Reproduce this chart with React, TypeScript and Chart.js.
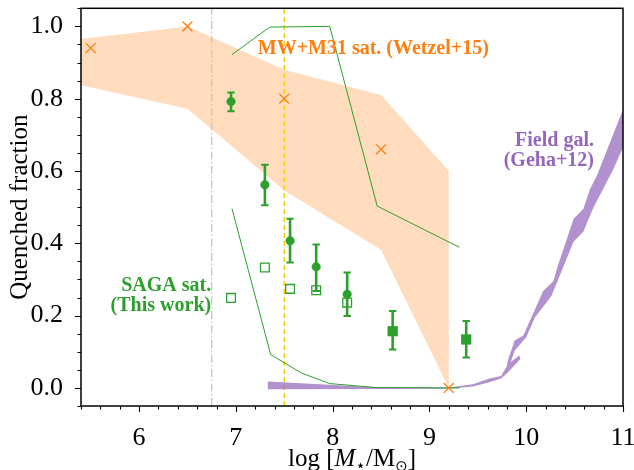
import React, { useEffect, useRef } from "react";
import { Chart, registerables } from "chart.js";

Chart.register(...registerables);

// ---------------- axes ----------------
const X_MIN = 5.4;
const X_MAX = 11;
const Y_MIN = -0.05;
const Y_MAX = 1.05;
const xTickValues = [6, 7, 8, 9, 10, 11];
const yTickValues = [0.0, 0.2, 0.4, 0.6, 0.8, 1.0];
const xMinorStep = 0.2;
const yMinorStep = 0.05;

// ---------------- MW+M31 satellites (Wetzel+15) ----------------
const wetzelX = [5.5, 6.5, 7.5, 8.5, 9.2];
const wetzelY = [0.94, 1.0, 0.8, 0.66, 0.0];
const wetzelBandX = [5.0, 6.5, 7.5, 8.5, 9.2];
const wetzelBandHi = [0.952, 1.0, 0.88, 0.81, 0.6];
const wetzelBandLo = [0.861, 0.772, 0.546, 0.382, 0.0];

// ---------------- SAGA satellites (this work) ----------------
const sagaX = [6.95, 7.3, 7.56, 7.83, 8.15, 8.62, 9.38];
const sagaY = [0.792, 0.562, 0.407, 0.335, 0.259, 0.157, 0.134];
const sagaLo = [0.765, 0.505, 0.347, 0.268, 0.199, 0.106, 0.084];
const sagaHi = [0.817, 0.617, 0.468, 0.397, 0.319, 0.213, 0.185];
const sagaMarker = ["circle", "circle", "circle", "circle", "circle", "rect", "rect"];
const sagaOpenY = [0.249, 0.333, 0.274, 0.27, 0.236, 0.157, 0.134];

// SAGA model envelope lines
const envHiX = [6.96, 7.35, 7.97, 8.46, 9.31];
const envHiY = [0.922, 0.998, 1.0, 0.503, 0.389];
const envLoX = [6.96, 7.36, 7.68, 7.97, 8.45, 9.31];
const envLoY = [0.496, 0.092, 0.041, 0.012, 0.001, 0.0];

// ---------------- Field galaxies (Geha+12) band ----------------
const fieldUpX = [7.33, 8.45, 9.2, 9.45, 9.62, 9.74, 9.8, 9.81, 9.88, 9.97, 10.175, 10.28, 10.33, 10.49, 10.59, 10.66, 10.73, 11.0];
const fieldUpY = [0.018, 0.002, 0.001, 0.01, 0.026, 0.033, 0.06, 0.076, 0.131, 0.145, 0.268, 0.295, 0.341, 0.468, 0.495, 0.551, 0.587, 0.77];
const fieldLoX = [7.33, 8.45, 9.2, 9.45, 9.62, 9.74, 9.8, 9.94, 9.93, 9.84, 9.88, 10.0, 10.09, 10.26, 10.33, 10.49, 10.59, 10.69, 10.9, 11.0];
const fieldLoY = [-0.004, -0.003, -0.002, 0.004, 0.016, 0.026, 0.04, 0.08, 0.09, 0.072, 0.103, 0.14, 0.195, 0.254, 0.3, 0.405, 0.432, 0.496, 0.605, 0.665];

// ---------------- reference lines ----------------
const grayLineX = 6.75;
const yellowLineX = 7.5;

// ---------------- annotations ----------------
const wetzelLabel = { x: 8.42, y: 0.9375, lines: ["MW+M31 sat. (Wetzel+15)"] };
const sagaLabel = { x: 6.745, y: 0.255, lines: ["SAGA sat.", "(This work)"] };
const fieldLabel = { x: 10.7, y: 0.657, lines: ["Field gal.", "(Geha+12)"] };

const GREEN = "#2ca02c";
const ORANGE = "#ff7f0e";
const PURPLE = "#9467bd";
const SERIF = "'Liberation Serif', 'Times New Roman', 'DejaVu Serif', serif";

const pts = (xs: number[], ys: (number | null)[]) => xs.map((x, i) => ({ x, y: ys[i] }));

const decorPlugin = {
  id: "decor",
  afterDraw(chart: any) {
    const { ctx, chartArea: a, scales } = chart;
    const xs = scales.x;
    const ys = scales.y;
    ctx.save();
    // ticks (outward)
    ctx.strokeStyle = "#000";
    ctx.lineWidth = 1.1;
    ctx.beginPath();
    const isMajor = (v: number, list: number[]) => list.some((m) => Math.abs(m - v) < 1e-6);
    for (let k = Math.ceil(X_MIN / xMinorStep - 1e-6); k * xMinorStep <= X_MAX + 1e-6; k++) {
      const v = k * xMinorStep;
      const px = Math.round(xs.getPixelForValue(v)) + 0.5;
      const len = isMajor(v, xTickValues) ? 6 : 3.5;
      ctx.moveTo(px, a.bottom);
      ctx.lineTo(px, a.bottom + len);
    }
    for (let k = Math.ceil(Y_MIN / yMinorStep - 1e-6); k * yMinorStep <= Y_MAX + 1e-6; k++) {
      const v = k * yMinorStep;
      const py = Math.round(ys.getPixelForValue(v)) + 0.5;
      const len = isMajor(v, yTickValues) ? 6 : 3.5;
      ctx.moveTo(a.left, py);
      ctx.lineTo(a.left - len, py);
    }
    ctx.stroke();
    // frame
    ctx.lineWidth = 1.5;
    ctx.strokeRect(a.left, a.top, a.right - a.left, a.bottom - a.top);

    // text annotations
    const drawLabel = (lab: any, color: string, align: CanvasTextAlign) => {
      ctx.font = `bold 20px ${SERIF}`;
      ctx.fillStyle = color;
      ctx.textAlign = align;
      ctx.textBaseline = "middle";
      const cx = xs.getPixelForValue(lab.x);
      const cy = ys.getPixelForValue(lab.y);
      const gap = 20;
      const n = lab.lines.length;
      lab.lines.forEach((t: string, i: number) => {
        ctx.fillText(t, cx, cy + (i - (n - 1) / 2) * gap);
      });
    };
    drawLabel(wetzelLabel, ORANGE, "center");
    drawLabel(sagaLabel, GREEN, "right");
    drawLabel(fieldLabel, PURPLE, "right");

    // x-axis title: log [M_star / M_sun]
    const parts = [
      { t: "log [", f: `25px ${SERIF}`, dy: 0 },
      { t: "M", f: `italic 25px ${SERIF}`, dy: 0 },
      { t: "\u22C6", f: `17px 'DejaVu Sans', sans-serif`, dy: 5 },
      { t: "/", f: `25px ${SERIF}`, dy: 0 },
      { t: "M", f: `25px ${SERIF}`, dy: 0 },
      { t: "\u2299", f: `15px 'DejaVu Sans', sans-serif`, dy: 5 },
      { t: "]", f: `25px ${SERIF}`, dy: 0 },
    ];
    ctx.fillStyle = "#000";
    ctx.textAlign = "left";
    ctx.textBaseline = "alphabetic";
    let total = 0;
    const widths = parts.map((p) => {
      ctx.font = p.f;
      const w = ctx.measureText(p.t).width;
      total += w;
      return w;
    });
    let x0 = (a.left + a.right) / 2 - total / 2;
    const base = a.bottom + 60;
    parts.forEach((p, i) => {
      ctx.font = p.f;
      ctx.fillText(p.t, x0, base + p.dy);
      x0 += widths[i];
    });
    ctx.restore();
  },
};

export default function App() {
  const ref = useRef<HTMLCanvasElement | null>(null);

  useEffect(() => {
    if (!ref.current) return;

    const errData: { x: number; y: number | null }[] = [];
    sagaX.forEach((xv, i) => {
      errData.push({ x: xv, y: sagaLo[i] }, { x: xv, y: sagaHi[i] }, { x: xv, y: null });
    });
    const capData = [...pts(sagaX, sagaLo), ...pts(sagaX, sagaHi)];

    const wetzelPoly = [...pts(wetzelBandX, wetzelBandHi), ...pts(wetzelBandX, wetzelBandLo).reverse()];
    const fieldPoly = [...pts(fieldUpX, fieldUpY), ...pts(fieldLoX, fieldLoY).reverse()];

    const chart = new Chart(ref.current, {
      type: "line",
      data: {
        datasets: [
          {
            label: "Wetzel band",
            data: wetzelPoly,
            fill: "shape",
            backgroundColor: "rgba(255,127,14,0.27)",
            borderColor: "rgba(0,0,0,0)",
            borderWidth: 0,
            pointRadius: 0,
            order: 20,
          },
          {
            label: "gray line",
            data: [{ x: grayLineX, y: Y_MIN }, { x: grayLineX, y: Y_MAX }],
            borderColor: "#c8c8c8",
            borderWidth: 1.4,
            borderDash: [8, 2.5, 1.5, 2.5],
            pointRadius: 0,
            fill: false,
            order: 15,
          },
          {
            label: "yellow line",
            data: [{ x: yellowLineX, y: Y_MIN }, { x: yellowLineX, y: Y_MAX }],
            borderColor: "#ffcc00",
            borderWidth: 1.5,
            borderDash: [5, 3],
            pointRadius: 0,
            fill: false,
            order: 14,
          },
          {
            label: "envelope hi",
            data: pts(envHiX, envHiY),
            borderColor: GREEN,
            borderWidth: 1,
            pointRadius: 0,
            fill: false,
            order: 12,
          },
          {
            label: "field band",
            data: fieldPoly,
            fill: "shape",
            backgroundColor: "rgba(148,103,189,0.72)",
            borderColor: "rgba(0,0,0,0)",
            borderWidth: 0,
            pointRadius: 0,
            order: 11,
          },
          {
            label: "envelope lo",
            data: pts(envLoX, envLoY),
            borderColor: GREEN,
            borderWidth: 1,
            pointRadius: 0,
            fill: false,
            order: 10,
          },
          {
            label: "Wetzel",
            data: pts(wetzelX, wetzelY),
            showLine: false,
            pointStyle: "crossRot",
            pointRadius: 7,
            pointBorderColor: ORANGE,
            pointBorderWidth: 1.3,
            borderColor: ORANGE,
            order: 5,
          },
          {
            label: "SAGA open",
            data: pts(sagaX, sagaOpenY),
            showLine: false,
            pointStyle: "rect",
            pointRadius: 6.2,
            pointBackgroundColor: "rgba(0,0,0,0)",
            pointBorderColor: GREEN,
            pointBorderWidth: 1.3,
            borderColor: GREEN,
            order: 4,
          },
          {
            label: "SAGA err",
            data: errData,
            borderColor: GREEN,
            borderWidth: 2.6,
            pointRadius: 0,
            spanGaps: false,
            fill: false,
            order: 3,
          },
          {
            label: "SAGA caps",
            data: capData,
            showLine: false,
            pointStyle: "line",
            pointRadius: 3.7,
            pointBorderColor: GREEN,
            pointBorderWidth: 2,
            borderColor: GREEN,
            order: 2,
          },
          {
            label: "SAGA",
            data: pts(sagaX, sagaY),
            showLine: false,
            pointStyle: sagaMarker as any,
            pointRadius: sagaMarker.map((m) => (m === "rect" ? 6.4 : 4.3)),
            pointBackgroundColor: GREEN,
            pointBorderColor: GREEN,
            pointBorderWidth: 0.5,
            borderColor: GREEN,
            order: 1,
          },
        ] as any,
      },
      options: {
        responsive: false,
        devicePixelRatio: 1,
        animation: false,
        layout: { padding: { left: 0, top: 4, right: 11, bottom: 0 } },
        plugins: {
          legend: { display: false },
          tooltip: { enabled: false },
        },
        elements: { line: { tension: 0 } },
        scales: {
          x: {
            type: "linear",
            min: X_MIN,
            max: X_MAX,
            grid: { display: false },
            border: { display: false },
            ticks: {
              color: "#000",
              font: { family: SERIF, size: 26 },
              padding: 9,
              maxRotation: 0,
              autoSkip: false,
              callback: (v: any) => String(v),
            },
            afterBuildTicks: (s: any) => {
              s.ticks = xTickValues.map((v) => ({ value: v }));
            },
            afterFit: (s: any) => {
              s.height = 64;
              s.paddingLeft = 0;
              s.paddingRight = 0;
            },
          },
          y: {
            type: "linear",
            min: Y_MIN,
            max: Y_MAX,
            grid: { display: false },
            border: { display: false },
            ticks: {
              color: "#000",
              font: { family: SERIF, size: 26 },
              padding: 10,
              autoSkip: false,
              callback: (v: any) => Number(v).toFixed(1),
            },
            afterBuildTicks: (s: any) => {
              s.ticks = yTickValues.map((v) => ({ value: v }));
            },
            afterFit: (s: any) => {
              s.width = 81;
              s.paddingTop = 0;
              s.paddingBottom = 0;
            },
            title: {
              display: true,
              text: "Quenched fraction",
              color: "#000",
              font: { family: SERIF, size: 25 },
              padding: { top: 5, bottom: 0 },
            },
          },
        },
      } as any,
      plugins: [decorPlugin],
    });
    return () => chart.destroy();
  }, []);

  return (
    <div style={{ position: "absolute", left: 0, top: 0, width: 634, height: 470, background: "#fff" }}>
      <canvas ref={ref} width={634} height={470} style={{ display: "block" }} />
    </div>
  );
}
